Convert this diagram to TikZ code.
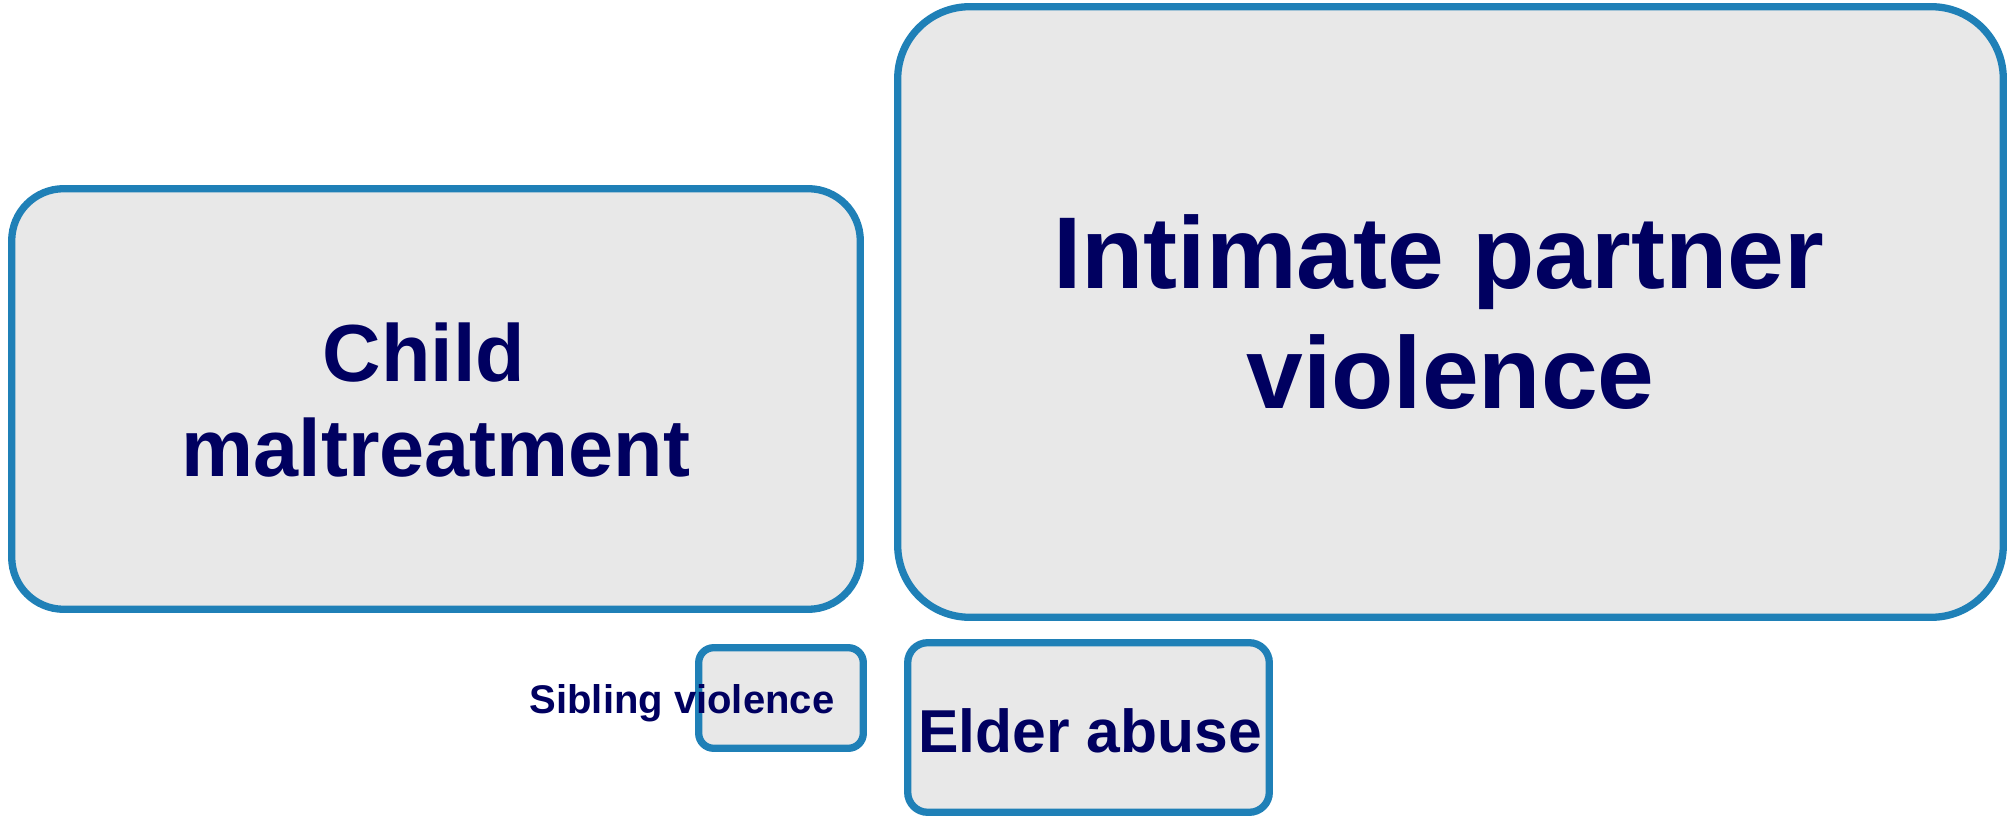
\documentclass[tikz,border=0pt]{standalone}
\usepackage{fontspec}
\setmainfont{Liberation Sans}
\definecolor{boxblue}{RGB}{31,128,183}
\definecolor{boxgray}{RGB}{232,232,232}
\definecolor{labelnavy}{RGB}{0,0,96}

\begin{document}
\begin{tikzpicture}[x=0.5pt,y=-0.5pt,
  formbox/.style={draw=boxblue, fill=boxgray, line width=3.65pt, inner sep=0pt},
  formlabel/.style={text=labelnavy, align=center, inner sep=0pt}]
  \useasboundingbox (0,0) rectangle (2007,817);
  % boxes
  \node[formbox, rounded corners=26pt, minimum width=424.3pt, minimum height=210.3pt] (child) at (436,399) {};
  \node[formbox, rounded corners=36pt, minimum width=552.8pt, minimum height=305.3pt] (ipv) at (1450.5,312) {};
  \node[formbox, rounded corners=7.5pt, minimum width=82.3pt, minimum height=50.3pt] (sibling) at (781,698) {};
  \node[formbox, rounded corners=10pt, minimum width=180.8pt, minimum height=84.8pt] (elder) at (1088.5,727.5) {};
  % labels
  \node[formlabel, font=\bfseries\fontsize{40.5}{47.5}\selectfont] (childlabel) at (436,400)
    {Child\hspace*{12pt}\\maltreatment};
  \node[formlabel, font=\bfseries\fontsize{51}{60}\selectfont] (ipvlabel) at (1450.5,312)
    {Intimate partner\hspace*{12pt}\\violence};
  \node[formlabel, anchor=base, font=\bfseries\fontsize{20}{24}\selectfont] (siblinglabel) at (682,713) {Sibling violence};
  \node[formlabel, anchor=base, font=\bfseries\fontsize{30.3}{36}\selectfont] (elderlabel) at (1090,752) {Elder abuse};
\end{tikzpicture}
\end{document}
